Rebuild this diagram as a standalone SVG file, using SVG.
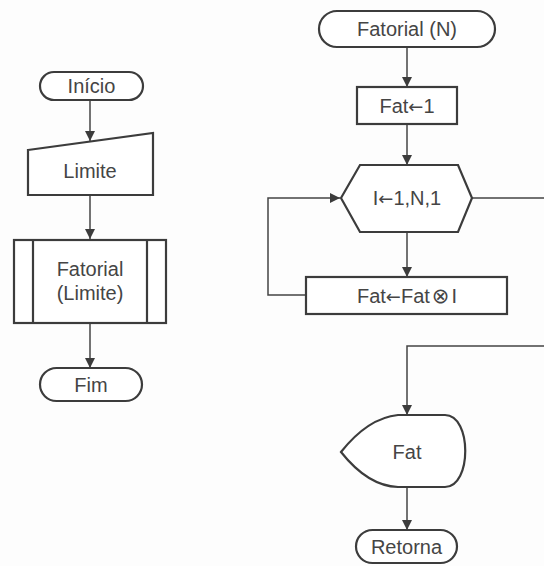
<svg xmlns="http://www.w3.org/2000/svg" width="544" height="566" viewBox="0 0 544 566">
<style>
.s{fill:#fff;stroke:#3c3c3c;stroke-width:2.2}
.c{fill:none;stroke:#444;stroke-width:1.5}
text{font-family:"Liberation Sans",Arial,sans-serif;font-size:20px;fill:#454545;text-anchor:middle;dominant-baseline:central}
.y{font-family:"DejaVu Sans",sans-serif;font-size:18px}
.o{font-family:"DejaVu Sans",sans-serif;font-size:21px}
</style>
<defs>
<marker id="a" markerUnits="userSpaceOnUse" markerWidth="11" markerHeight="11" refX="10" refY="5" orient="auto">
<path d="M0,0 L10,5 L0,10 z" fill="#3c3c3c"/>
</marker>
</defs>
<rect width="544" height="566" fill="#fdfdfd"/>
<g id="connectors">
<path class="c" d="M90,100 V141" marker-end="url(#a)"/>
<path class="c" d="M90,195 V239" marker-end="url(#a)"/>
<path class="c" d="M90,323 V368" marker-end="url(#a)"/>
<path class="c" d="M407,47 V87" marker-end="url(#a)"/>
<path class="c" d="M407,124 V165" marker-end="url(#a)"/>
<path class="c" d="M407,232 V277" marker-end="url(#a)"/>
<path class="c" d="M306,295 H268 V198 H340" marker-end="url(#a)"/>
<path class="c" d="M472,198 H550 V346 H407 V415" marker-end="url(#a)"/>
<path class="c" d="M407,487 V530" marker-end="url(#a)"/>
</g>
<g id="inicio">
<rect class="s" x="40" y="72" width="103" height="28" rx="14"/>
<text x="91.5" y="86">Início</text>
</g>
<g id="limite">
<path class="s" d="M28,150 L153,133 L153,195 L28,195 Z"/>
<text x="90" y="171">Limite</text>
</g>
<g id="fatorial-limite">
<rect class="s" x="14" y="240" width="152" height="83"/>
<path class="s" d="M33,240 V323 M147,240 V323"/>
<text x="90" y="269">Fatorial</text>
<text x="90" y="293">(Limite)</text>
</g>
<g id="fim">
<rect class="s" x="40" y="368" width="102" height="33" rx="16.5"/>
<text x="91" y="385">Fim</text>
</g>
<g id="fatorial-n">
<rect class="s" x="319" y="11" width="176" height="36" rx="18"/>
<text x="407" y="29">Fatorial (N)</text>
</g>
<g id="fat-init">
<rect class="s" x="357" y="87" width="100" height="37"/>
<text x="407" y="106">Fat<tspan class="y">←</tspan>1</text>
</g>
<g id="loop">
<path class="s" d="M341,198 L360,165 L458,165 L472,198 L458,232 L360,232 Z"/>
<text x="407" y="198">I<tspan class="y">←</tspan>1,N,1</text>
</g>
<g id="fat-mult">
<rect class="s" x="306" y="277" width="201" height="37"/>
<text x="407" y="296">Fat<tspan class="y">←</tspan>Fat<tspan class="o" dx="2">⊗</tspan><tspan dx="2">I</tspan></text>
</g>
<g id="display">
<path class="s" d="M341,452 Q368,418 398,415 L445,415 C472,415 472,487 445,487 L398,487 Q368,486 341,452 Z"/>
<text x="407" y="452">Fat</text>
</g>
<g id="retorna">
<rect class="s" x="356" y="530" width="101" height="33" rx="16.5"/>
<text x="406.5" y="547">Retorna</text>
</g>
</svg>
